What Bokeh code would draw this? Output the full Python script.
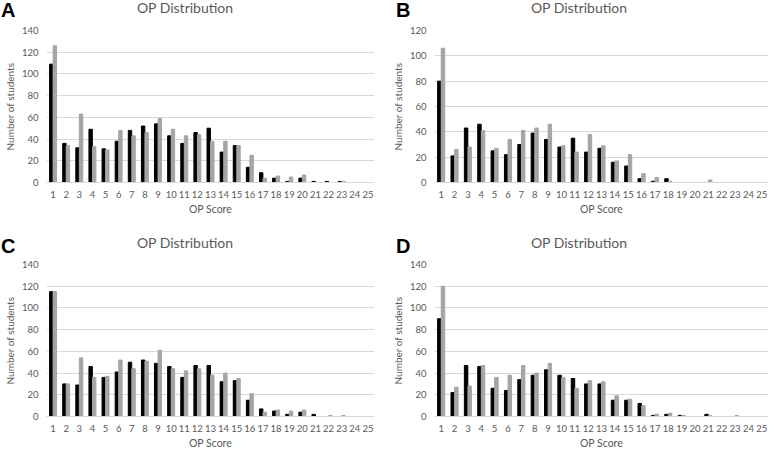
from bokeh.plotting import figure
from bokeh.models import FactorRange, Range1d, ColumnDataSource, Div
from bokeh.transform import dodge
from bokeh.layouts import column, row
from bokeh.embed import file_html
from bokeh.resources import INLINE

scores = [str(i) for i in range(1, 26)]

a_black = [109, 36, 32, 49, 31, 38, 48, 52, 54, 43, 36, 46, 50, 28, 34, 14, 9, 4, 1, 4, 1, 1, 1, 0, 0]
a_gray = [126, 34, 63, 33, 30, 48, 43, 46, 59, 49, 43, 44, 38, 38, 34, 25, 4, 6, 5, 7, 0, 0, 1, 0, 0]

b_black = [80, 21, 43, 46, 25, 22, 30, 39, 34, 28, 35, 24, 27, 16, 13, 3, 1, 3, 0, 0, 0, 0, 0, 0, 0]
b_gray = [106, 26, 28, 41, 27, 34, 41, 43, 46, 29, 24, 38, 29, 17, 22, 7, 4, 1, 0, 0, 2, 0, 0, 0, 0]

c_black = [115, 30, 29, 46, 36, 41, 50, 52, 49, 46, 36, 47, 47, 32, 33, 15, 7, 5, 2, 4, 2, 0, 0, 0, 0]
c_gray = [115, 30, 54, 36, 37, 52, 44, 51, 61, 44, 42, 44, 38, 40, 35, 21, 4, 6, 5, 6, 0, 1, 1, 0, 0]

d_black = [90, 22, 47, 46, 26, 24, 34, 38, 43, 38, 35, 30, 30, 15, 15, 12, 1, 2, 1, 0, 2, 0, 0, 0, 0]
d_gray = [120, 27, 28, 47, 36, 38, 47, 40, 49, 36, 26, 33, 32, 19, 16, 10, 2, 3, 1, 0, 1, 0, 1, 0, 0]

y_ticks_140 = [0, 20, 40, 60, 80, 100, 120, 140]
y_ticks_120 = [0, 20, 40, 60, 80, 100, 120]

title_text = "OP Distribution"
x_label = "OP Score"
y_label = "Number of students"

FONT = "Lato"
TXT = "#595959"
GRID = "#d9d9d9"
FW, FH = 334, 152
HEAD = 20


def header(letter, width, letter_x, letter_y, title_x, title_y):
    html = (
        f'<div style="position:relative;width:{width}px;height:{HEAD}px;overflow:visible;">'
        f'<span style="position:absolute;left:{letter_x}px;top:{letter_y}px;'
        f'font-family:\'Liberation Sans\';font-weight:bold;font-size:20px;line-height:20px;'
        f'color:#000000;white-space:nowrap;">{letter}</span>'
        f'<span style="position:absolute;left:{title_x}px;top:{title_y}px;'
        f'transform:translateX(-50%);font-family:{FONT};font-size:14px;line-height:14px;'
        f'color:{TXT};white-space:nowrap;">{title_text}</span>'
        f'</div>'
    )
    return Div(text=html, width=width, height=HEAD, margin=0,
               styles={"overflow": "visible"})


def panel(black, gray, ticks, left, right, top, bottom):
    p = figure(x_range=FactorRange(*scores), y_range=Range1d(0, ticks[-1]),
               width=left + FW + right, height=top + FH + bottom,
               min_border_left=left, min_border_right=right,
               min_border_top=top, min_border_bottom=bottom,
               toolbar_location=None, output_backend="svg", title=None)
    src = ColumnDataSource(dict(x=scores, black=black, gray=gray))
    p.vbar(x=dodge("x", -0.135, range=p.x_range), top="black", width=0.26,
           source=src, color="#000000")
    p.vbar(x=dodge("x", 0.135, range=p.x_range), top="gray", width=0.26,
           source=src, color="#a5a5a5")
    p.outline_line_color = None
    p.xgrid.visible = False
    p.ygrid.grid_line_color = GRID
    p.yaxis.ticker = ticks
    for ax in (p.xaxis, p.yaxis):
        ax.major_tick_line_color = None
        ax.minor_tick_line_color = None
        ax.major_tick_out = 0
        ax.major_tick_in = 0
        ax.major_label_text_font = FONT
        ax.major_label_text_font_size = "9.5px"
        ax.major_label_text_color = TXT
        ax.axis_label_text_font = FONT
        ax.axis_label_text_font_style = "normal"
        ax.axis_label_text_color = TXT
    p.yaxis.axis_line_color = None
    p.yaxis.major_label_standoff = 8
    p.yaxis.axis_label = y_label
    p.yaxis.axis_label_text_font_size = "10px"
    p.yaxis.axis_label_standoff = 3
    p.xaxis.axis_line_color = GRID
    p.xaxis.major_label_standoff = 8
    p.xaxis.axis_label = x_label
    p.xaxis.axis_label_text_font_size = "10.5px"
    p.xaxis.axis_label_standoff = 2
    return p


WA, WB = 384, 386
ha = header("A", WA, 1, 0, 185, 1)
hb = header("B", WB, 12, 0, 195, 1)
hc = header("C", WA, 1, 1, 185, 1)
hd = header("D", WB, 12, 1, 195, 1)

pa = panel(a_black, a_gray, y_ticks_140, 40, 10, 10, 53)
pb = panel(b_black, b_gray, y_ticks_120, 50, 2, 10, 53)
pc = panel(c_black, c_gray, y_ticks_140, 40, 10, 9, 35)
pd = panel(d_black, d_gray, y_ticks_140, 50, 2, 9, 35)

layout = column(row(column(ha, pa), column(hb, pb)),
                row(column(hc, pc), column(hd, pd)))

open("out.html", "w").write(file_html(layout, INLINE))
